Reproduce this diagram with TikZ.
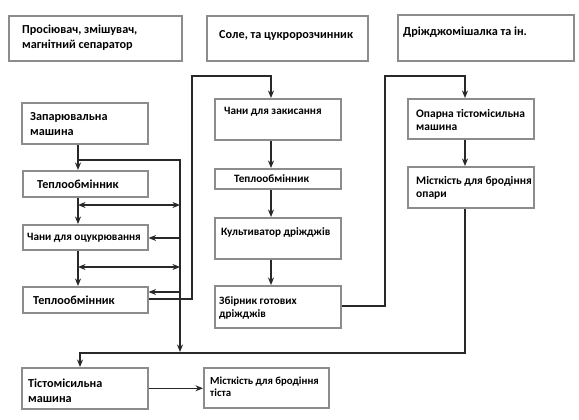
\documentclass[tikz,border=0pt]{standalone}
\usepackage{fontspec}
\setmainfont{Carlito}
\usetikzlibrary{arrows.meta}
\definecolor{boxgray}{RGB}{140,140,140}
\definecolor{linec}{RGB}{40,40,40}
\begin{document}
\begin{tikzpicture}[x=1pt,y=-1pt,
 box/.style={draw=boxgray, line width=1.6pt, inner sep=0pt, anchor=north west},
 txt/.style={inner sep=0pt, anchor=west, align=left, font=\bfseries},
 big/.style={txt, font=\bfseries\fontsize{12.2}{15}\selectfont},
 mid/.style={txt, font=\bfseries\fontsize{11.2}{13.5}\selectfont},
 sml/.style={txt, font=\bfseries\fontsize{11.5}{12.5}\selectfont},
 con/.style={draw=linec, line width=1.2pt},
 arr/.style={con, -{Stealth[length=7.5pt,width=6pt]}},
 darr/.style={con, {Stealth[length=7.5pt,width=6pt]}-{Stealth[length=7.5pt,width=6pt]}}]
\useasboundingbox[fill=white] (0,0) rectangle (579,420);

% boxes
\node[box, minimum width=173, minimum height=45] (b1) at (8,15) {};
\node[box, minimum width=161, minimum height=45] (b2) at (206,15) {};
\node[box, minimum width=176, minimum height=46] (b3) at (397,14) {};
\node[box, minimum width=126, minimum height=41] (b4) at (21,102) {};
\node[box, minimum width=125, minimum height=26] (b5) at (22,170) {};
\node[box, minimum width=125, minimum height=25] (b6) at (22,224) {};
\node[box, minimum width=125, minimum height=26] (b7) at (22,286) {};
\node[box, minimum width=126, minimum height=41] (b8) at (214,98) {};
\node[box, minimum width=126, minimum height=20] (b9) at (214,168) {};
\node[box, minimum width=126, minimum height=41] (b10) at (214,217) {};
\node[box, minimum width=126, minimum height=42] (b11) at (214,285) {};
\node[box, minimum width=126, minimum height=40] (b12) at (407,98) {};
\node[box, minimum width=126, minimum height=41] (b13) at (407,166) {};
\node[box, minimum width=126, minimum height=41] (b14) at (21,367) {};
\node[box, minimum width=125, minimum height=40] (b15) at (203,367) {};

% texts
\node[big] (t1) at (22,38) {Просіювач, змішувач,\\магнітний сепаратор};
\node[big] (t2) at (219,35) {Соле, та цукророзчинник};
\node[big] (t3) at (403,32) {Дріжджомішалка та ін.};
\node[big] (t4) at (30,124) {Запарювальна\\машина};
\node[big] (t5) at (37,184) {Теплообмінник};
\node[mid] (t6) at (27,238) {Чани для оцукрювання};
\node[big] (t7) at (33,300) {Теплообмінник};
\node[mid] (t8) at (224,112) {Чани для закисання};
\node[txt, font=\bfseries\fontsize{11.2}{13}\selectfont] (t9) at (234,179) {Теплообмінник};
\node[mid] (t10) at (221,232) {Культиватор дріжджів};
\node[mid] (t11) at (219,308) {Збірник готових\\дріжджів};
\node[sml] (t12) at (416,120) {Опарна тістомісильна\\машина};
\node[sml] (t13) at (416,188) {Місткість для бродіння\\опари};
\node[big] (t14) at (28,391) {Тістомісильна\\машина};
\node[txt, font=\bfseries\fontsize{10.8}{12}\selectfont] (t15) at (210,387) {Місткість для бродіння\\тіста};

% junction coordinates
\coordinate (j1) at (78,160);
\coordinate (j1r) at (180,160);
\coordinate (bus) at (180,352);
\coordinate (d1l) at (78,205);
\coordinate (d1r) at (180,205);
\coordinate (d2l) at (78,267);
\coordinate (d2r) at (180,267);
\coordinate (s1) at (180,238);
\coordinate (s2) at (180,292);
\coordinate (r1) at (192,299);
\coordinate (r2) at (192,76);
\coordinate (r3) at (271,76);
\coordinate (q1) at (385,306);
\coordinate (q2) at (385,76);
\coordinate (q3) at (465,76);
\coordinate (q4) at (465,353);
\coordinate (q5) at (80,353);

% left column
\draw[arr] (b4.south -| j1) -- (b5.north -| j1);
\draw[arr] (j1) -- (j1r) -- (bus);
\draw[arr] (b5.south -| j1) -- (b6.north -| j1);
\draw[arr] (b6.south -| j1) -- (b7.north -| j1);
\draw[darr] (d1l) -- (d1r);
\draw[darr] (d2l) -- (d2r);
\draw[arr] (s1) -- (b6.east |- s1);
\draw[arr] (s2) -- (b7.east |- s2);
\draw[arr] (b7.east |- r1) -- (r1) -- (r2) -- (r3) -- (b8.north -| r3);

% middle column
\draw[arr] (b8.south -| r3) -- (b9.north -| r3);
\draw[arr] (b9.south -| r3) -- (b10.north -| r3);
\draw[arr] (b10.south -| r3) -- (b11.north -| r3);
\draw[arr] (b11.east |- q1) -- (q1) -- (q2) -- (q3) -- (b12.north -| q3);

% right column
\draw[arr] (b12.south -| q3) -- (b13.north -| q3);
\draw[arr] (b13.south -| q3) -- (q4) -- (q5) -- (b14.north -| q5);

% bottom
\draw[arr] (b14.east) -- (b15.west |- b14.east);
\end{tikzpicture}
\end{document}
